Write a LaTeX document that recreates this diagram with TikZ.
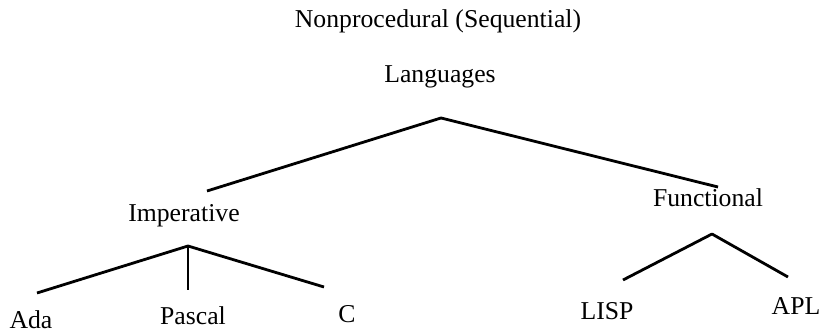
\documentclass[tikz,border=0pt]{standalone}
\usepackage{fontspec}
\setmainfont{Liberation Serif}

\begin{document}
\begin{tikzpicture}[x=1pt, y=-1pt]

% Define line width of the branches
\def\lw{2.8pt}
% Define text and branch styles
\tikzset{langlabel/.style={
        anchor=base, inner sep=0pt,
        font=\fontsize{25.7}{30}\selectfont}, % Times-like labels
    branch/.style={line width=\lw, line join=round}
        }

\useasboundingbox (0,0) rectangle (820,336);

% Heading
\node[langlabel] (title) at (438,28) {Nonprocedural (Sequential)};
\node[langlabel] (root) at (440,83) {Languages};

% Second level
\node[langlabel] (imp) at (184,222) {Imperative};
\node[langlabel] (fun) at (708,207) {Functional};

% Leaves
\node[langlabel] (ada) at (31,329) {Ada};
\node[langlabel] (pascal) at (193,325) {Pascal};
\node[langlabel] (c) at (347,323) {C};
\node[langlabel] (lisp) at (607,320) {LISP};
\node[langlabel] (apl) at (796,315) {APL};

% Branch points and free ends
\coordinate (top) at (441,118);
\coordinate (topL) at (207,191);
\coordinate (topR) at (718,187);
\coordinate (impTop) at (188,246);
\coordinate (impL) at (37,293);
\coordinate (impM) at (188,290);
\coordinate (impR) at (324,287);
\coordinate (funTop) at (712,234);
\coordinate (funL) at (623,280);
\coordinate (funR) at (788,277);

% Tree branches
\draw[branch] (topL) -- (top) -- (topR);
\draw[branch] (impL) -- (impTop) -- (impR);
\draw[line width=1.6pt] (impTop) -- (impM); % thinner stem to Pascal
\draw[branch] (funL) -- (funTop) -- (funR);

\end{tikzpicture}
\end{document}
